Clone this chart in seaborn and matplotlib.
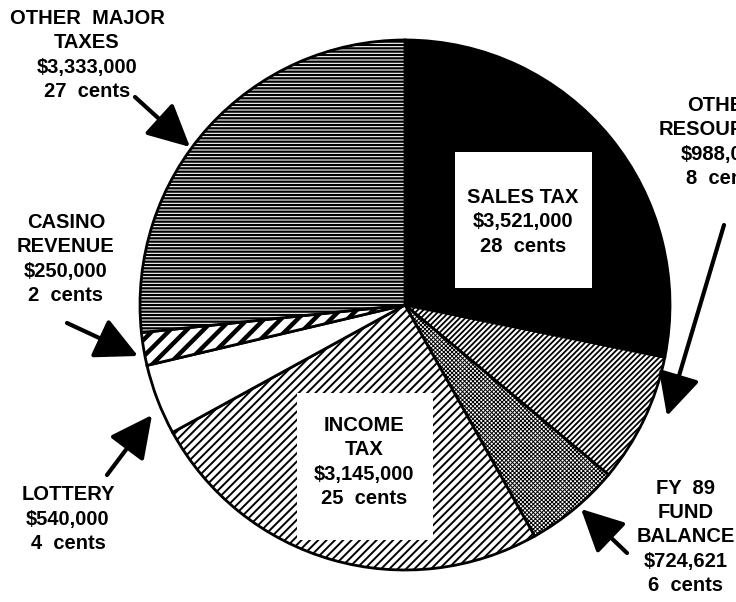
import numpy as np
import seaborn as sns
import matplotlib.pyplot as plt
from matplotlib.patches import Rectangle

# revenue sources, clockwise from 12 o'clock
sources = ["SALES TAX", "OTHER RESOURCES", "FY 89 FUND BALANCE", "INCOME TAX",
           "LOTTERY", "CASINO REVENUE", "OTHER MAJOR TAXES"]
amounts = [3521000, 988000, 724621, 3145000, 540000, 250000, 3333000]
cents = [28, 8, 6, 25, 4, 2, 27]
label_names = ["SALES TAX", "OTHER\nRESOURCES", "FY  89\nFUND\nBALANCE", "INCOME\nTAX",
               "LOTTERY", "CASINO\nREVENUE", "OTHER  MAJOR\nTAXES"]

sns.set_theme(style="white")
plt.rcParams['font.family'] = ['Liberation Sans', 'DejaVu Sans']
plt.rcParams['hatch.color'] = 'black'

fig = plt.figure(figsize=(7.36, 6.02), dpi=100)
ax = fig.add_axes([0, 0, 1, 1])

# fill styles per slice: (face, hatch, hatch linewidth)
styles = [
    ('black', None, 1.0),
    ('white', '//////', 1.3),
    ('white', 'xxxxxxxx', 0.7),
    ('white', '////', 1.4),
    ('white', None, 1.0),
    ('white', '//', 3.2),
    ('white', '-----', 1.6),
]

# y axis runs downward (pixel-like), so counterclock in data = clockwise on screen
wedges, _ = ax.pie(amounts, startangle=-90, counterclock=True,
                   center=(405, 305), radius=265,
                   wedgeprops=dict(edgecolor='black', linewidth=2))
for w, (fc, h, hlw) in zip(wedges, styles):
    w.set_facecolor(fc)
    if h:
        w.set_hatch(h)
        if hasattr(w, 'set_hatch_linewidth'):
            w.set_hatch_linewidth(hlw)

ax.set_xlim(0, 736)
ax.set_ylim(602, 0)
ax.set_aspect('equal')
ax.axis('off')

txt = dict(fontsize=14.5, fontweight='bold', ha='center', va='center',
           color='black', linespacing=1.35)

def label(i):
    return f"{label_names[i]}\n${amounts[i]:,}\n{cents[i]}  cents"

# white boxes inside the big slices
ax.add_patch(Rectangle((455, 152), 137, 136, facecolor='white', edgecolor='none', zorder=3))
ax.text(523, 222, label(0), zorder=4, **txt)
ax.add_patch(Rectangle((297, 393), 136, 147, facecolor='white', edgecolor='none', zorder=3))
ax.text(364, 462, label(3), zorder=4, **txt)

# outside labels (OTHER RESOURCES runs off the right edge, as in the original)
ax.text(723, 142, label(1), **txt)
ax.text(686, 537, label(2), **txt)
ax.text(68, 519, label(4), **txt)
ax.text(66, 259, label(5), **txt)
ax.text(87, 55, label(6), **txt)

arrow = dict(arrowstyle='-|>,head_length=1.0,head_width=0.5', color='black',
             lw=3, mutation_scale=26, shrinkA=0, shrinkB=0)
arrows = [((724, 225), (667, 416)),
          ((627, 553), (581, 509)),
          ((107, 475), (152, 415)),
          ((67, 323), (138, 356)),
          ((135, 97), (190, 147))]
for tail, tip in arrows:
    ax.annotate('', xy=tip, xytext=tail, arrowprops=arrow)

fig.savefig('out.png', dpi=100, facecolor='white')
